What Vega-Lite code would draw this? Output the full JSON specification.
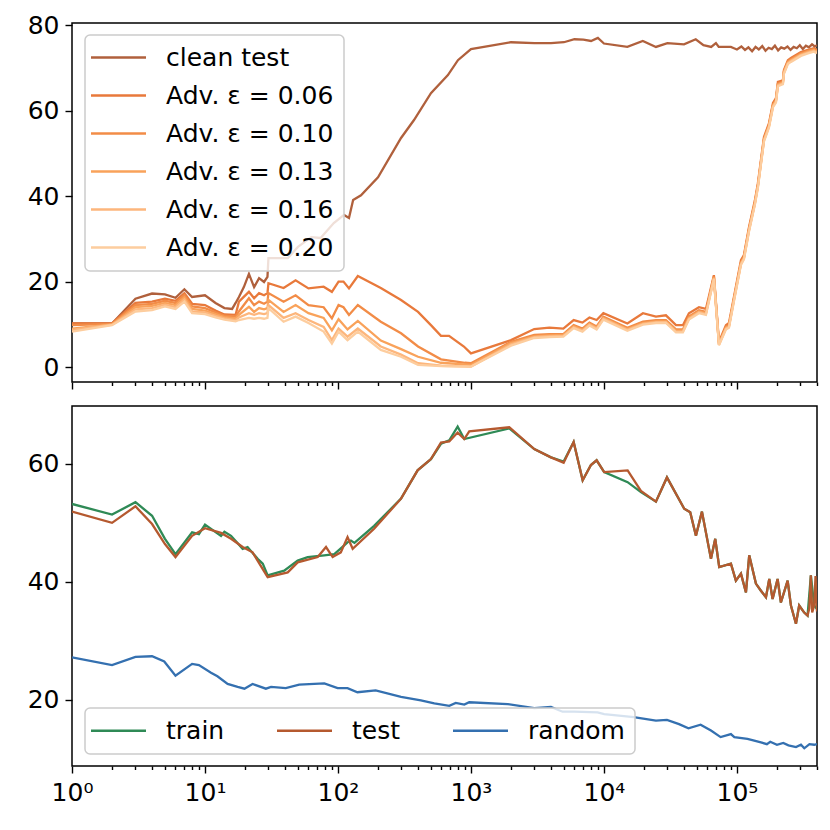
{
  "$schema": "https://vega.github.io/schema/vega-lite/v6.json",
  "padding": {"left": 5, "top": 12, "right": 5, "bottom": 5},
  "background": "white",
  "config": {
    "font": "DejaVu Sans",
    "view": {"stroke": "black", "strokeWidth": 1.5},
    "axis": {"grid": false, "domain": false, "tickColor": "black", "tickWidth": 1.4, "labelColor": "black", "labelFontSize": 25, "labelFont": "DejaVu Sans", "titleFontSize": 0},
    "axisY": {"minExtent": 66, "maxExtent": 66, "tickSize": 7, "labelPadding": 6},
    "legend": {"labelFont": "DejaVu Sans", "labelFontSize": 25, "labelColor": "black", "symbolType": "M-2.5,0H2.5", "symbolSize": 484, "symbolOffset": 11, "symbolStrokeWidth": 2.5, "labelOffset": 35, "padding": 10, "fillColor": "rgba(255,255,255,0.8)", "strokeColor": "#cccccc", "cornerRadius": 5, "strokeWidth": 1.5, "labelLimit": 400, "title": null}
  },
  "spacing": 14,
  "resolve": {"scale": {"color": "independent"}, "legend": {"color": "independent"}},
  "datasets": {
    "top": [
      {"x":1,"y":10.2,"s":"clean test"},{"x":2,"y":10.2,"s":"clean test"},{"x":3,"y":16.0,"s":"clean test"},{"x":4,"y":17.2,"s":"clean test"},{"x":5,"y":17.0,"s":"clean test"},{"x":6,"y":16.2,"s":"clean test"},{"x":7,"y":18.2,"s":"clean test"},{"x":8,"y":16.4,"s":"clean test"},{"x":10,"y":16.8,"s":"clean test"},{"x":12,"y":15.0,"s":"clean test"},{"x":14,"y":13.8,"s":"clean test"},{"x":16,"y":13.6,"s":"clean test"},{"x":17,"y":15.0,"s":"clean test"},{"x":18,"y":16.4,"s":"clean test"},{"x":19.6,"y":18.7,"s":"clean test"},{"x":21.4,"y":21.8,"s":"clean test"},{"x":23.4,"y":18.7,"s":"clean test"},{"x":25.5,"y":20.8,"s":"clean test"},{"x":27.8,"y":19.9,"s":"clean test"},{"x":29.5,"y":21.1,"s":"clean test"},{"x":30,"y":25.5,"s":"clean test"},{"x":42,"y":25.5,"s":"clean test"},{"x":50,"y":28.1,"s":"clean test"},{"x":63,"y":30.4,"s":"clean test"},{"x":74,"y":30.2,"s":"clean test"},{"x":93,"y":33.7,"s":"clean test"},{"x":111,"y":35.6,"s":"clean test"},{"x":121,"y":34.9,"s":"clean test"},{"x":130,"y":39.1,"s":"clean test"},{"x":149,"y":40.2,"s":"clean test"},{"x":200,"y":44.4,"s":"clean test"},{"x":298,"y":53.6,"s":"clean test"},{"x":373,"y":57.8,"s":"clean test"},{"x":500,"y":64.1,"s":"clean test"},{"x":671,"y":68.3,"s":"clean test"},{"x":798,"y":71.8,"s":"clean test"},{"x":1000,"y":74.4,"s":"clean test"},{"x":2000,"y":76.0,"s":"clean test"},{"x":3000,"y":75.8,"s":"clean test"},{"x":4000,"y":75.8,"s":"clean test"},{"x":5000,"y":76.0,"s":"clean test"},{"x":6000,"y":76.7,"s":"clean test"},{"x":7000,"y":76.6,"s":"clean test"},{"x":8000,"y":76.3,"s":"clean test"},{"x":9000,"y":77.0,"s":"clean test"},{"x":10000,"y":75.7,"s":"clean test"},{"x":15000,"y":74.9,"s":"clean test"},{"x":19600,"y":76.3,"s":"clean test"},{"x":24600,"y":74.9,"s":"clean test"},{"x":30000,"y":75.8,"s":"clean test"},{"x":40000,"y":75.5,"s":"clean test"},{"x":49000,"y":76.7,"s":"clean test"},{"x":56000,"y":75.3,"s":"clean test"},{"x":64000,"y":74.9,"s":"clean test"},{"x":69500,"y":75.8,"s":"clean test"},{"x":73000,"y":74.9,"s":"clean test"},{"x":90000,"y":74.9,"s":"clean test"},{"x":95000,"y":74.6,"s":"clean test"},{"x":100000,"y":74.3,"s":"clean test"},{"x":108000,"y":75.0,"s":"clean test"},{"x":115000,"y":74.2,"s":"clean test"},{"x":122000,"y":74.8,"s":"clean test"},{"x":130000,"y":73.9,"s":"clean test"},{"x":138000,"y":74.9,"s":"clean test"},{"x":146000,"y":74.3,"s":"clean test"},{"x":155000,"y":75.1,"s":"clean test"},{"x":164000,"y":74.0,"s":"clean test"},{"x":173000,"y":74.7,"s":"clean test"},{"x":183000,"y":74.4,"s":"clean test"},{"x":193000,"y":75.2,"s":"clean test"},{"x":204000,"y":74.1,"s":"clean test"},{"x":215000,"y":74.8,"s":"clean test"},{"x":227000,"y":74.5,"s":"clean test"},{"x":240000,"y":75.0,"s":"clean test"},{"x":253000,"y":74.2,"s":"clean test"},{"x":267000,"y":74.9,"s":"clean test"},{"x":282000,"y":74.6,"s":"clean test"},{"x":297000,"y":75.3,"s":"clean test"},{"x":313000,"y":74.4,"s":"clean test"},{"x":330000,"y":75.2,"s":"clean test"},{"x":348000,"y":74.8,"s":"clean test"},{"x":367000,"y":75.5,"s":"clean test"},{"x":385000,"y":75.0,"s":"clean test"},{"x":400000,"y":75.3,"s":"clean test"},

      {"x":1,"y":10.2,"s":"Adv. ε = 0.06"},{"x":2,"y":10.2,"s":"Adv. ε = 0.06"},{"x":3,"y":15.0,"s":"Adv. ε = 0.06"},{"x":4,"y":15.3,"s":"Adv. ε = 0.06"},{"x":5,"y":16.0,"s":"Adv. ε = 0.06"},{"x":6,"y":15.5,"s":"Adv. ε = 0.06"},{"x":7,"y":17.3,"s":"Adv. ε = 0.06"},{"x":8,"y":14.8,"s":"Adv. ε = 0.06"},{"x":10,"y":14.5,"s":"Adv. ε = 0.06"},{"x":12,"y":13.2,"s":"Adv. ε = 0.06"},{"x":14,"y":12.3,"s":"Adv. ε = 0.06"},{"x":17,"y":12.2,"s":"Adv. ε = 0.06"},{"x":18,"y":15.3,"s":"Adv. ε = 0.06"},{"x":21.4,"y":17.6,"s":"Adv. ε = 0.06"},{"x":23.4,"y":16.1,"s":"Adv. ε = 0.06"},{"x":25.5,"y":17.3,"s":"Adv. ε = 0.06"},{"x":27.8,"y":16.8,"s":"Adv. ε = 0.06"},{"x":29.5,"y":17.3,"s":"Adv. ε = 0.06"},{"x":30,"y":19.6,"s":"Adv. ε = 0.06"},{"x":39,"y":18.5,"s":"Adv. ε = 0.06"},{"x":48,"y":20.3,"s":"Adv. ε = 0.06"},{"x":60,"y":18.4,"s":"Adv. ε = 0.06"},{"x":78,"y":18.8,"s":"Adv. ε = 0.06"},{"x":90,"y":17.6,"s":"Adv. ε = 0.06"},{"x":101,"y":20.0,"s":"Adv. ε = 0.06"},{"x":110,"y":20.0,"s":"Adv. ε = 0.06"},{"x":121,"y":18.4,"s":"Adv. ε = 0.06"},{"x":141,"y":21.3,"s":"Adv. ε = 0.06"},{"x":210,"y":18.5,"s":"Adv. ε = 0.06"},{"x":298,"y":15.7,"s":"Adv. ε = 0.06"},{"x":400,"y":12.9,"s":"Adv. ε = 0.06"},{"x":500,"y":9.8,"s":"Adv. ε = 0.06"},{"x":595,"y":7.3,"s":"Adv. ε = 0.06"},{"x":684,"y":7.3,"s":"Adv. ε = 0.06"},{"x":885,"y":4.8,"s":"Adv. ε = 0.06"},{"x":1000,"y":3.2,"s":"Adv. ε = 0.06"},{"x":2000,"y":6.3,"s":"Adv. ε = 0.06"},{"x":2990,"y":8.9,"s":"Adv. ε = 0.06"},{"x":3890,"y":9.2,"s":"Adv. ε = 0.06"},{"x":4950,"y":9.0,"s":"Adv. ε = 0.06"},{"x":5920,"y":11.0,"s":"Adv. ε = 0.06"},{"x":6890,"y":10.4,"s":"Adv. ε = 0.06"},{"x":7780,"y":11.6,"s":"Adv. ε = 0.06"},{"x":8810,"y":11.0,"s":"Adv. ε = 0.06"},{"x":9900,"y":12.6,"s":"Adv. ε = 0.06"},{"x":15000,"y":10.2,"s":"Adv. ε = 0.06"},{"x":19650,"y":12.6,"s":"Adv. ε = 0.06"},{"x":24600,"y":11.8,"s":"Adv. ε = 0.06"},{"x":29250,"y":12.1,"s":"Adv. ε = 0.06"},{"x":34800,"y":9.8,"s":"Adv. ε = 0.06"},{"x":39240,"y":9.8,"s":"Adv. ε = 0.06"},{"x":43550,"y":12.6,"s":"Adv. ε = 0.06"},{"x":51800,"y":14.0,"s":"Adv. ε = 0.06"},{"x":58450,"y":13.6,"s":"Adv. ε = 0.06"},{"x":67100,"y":21.5,"s":"Adv. ε = 0.06"},{"x":73250,"y":5.9,"s":"Adv. ε = 0.06"},{"x":82650,"y":9.8,"s":"Adv. ε = 0.06"},{"x":87100,"y":10.3,"s":"Adv. ε = 0.06"},{"x":94950,"y":16.4,"s":"Adv. ε = 0.06"},{"x":107200,"y":25.0,"s":"Adv. ε = 0.06"},{"x":112900,"y":26.2,"s":"Adv. ε = 0.06"},{"x":123200,"y":32.7,"s":"Adv. ε = 0.06"},{"x":136500,"y":39.0,"s":"Adv. ε = 0.06"},{"x":143800,"y":43.0,"s":"Adv. ε = 0.06"},{"x":151500,"y":48.4,"s":"Adv. ε = 0.06"},{"x":159700,"y":53.8,"s":"Adv. ε = 0.06"},{"x":174000,"y":57.0,"s":"Adv. ε = 0.06"},{"x":186700,"y":61.8,"s":"Adv. ε = 0.06"},{"x":196500,"y":62.9,"s":"Adv. ε = 0.06"},{"x":203300,"y":66.7,"s":"Adv. ε = 0.06"},{"x":221700,"y":67.1,"s":"Adv. ε = 0.06"},{"x":225600,"y":69.5,"s":"Adv. ε = 0.06"},{"x":241700,"y":71.8,"s":"Adv. ε = 0.06"},{"x":254700,"y":72.3,"s":"Adv. ε = 0.06"},{"x":302700,"y":73.7,"s":"Adv. ε = 0.06"},{"x":341800,"y":74.2,"s":"Adv. ε = 0.06"},{"x":379300,"y":74.6,"s":"Adv. ε = 0.06"},{"x":400000,"y":74.2,"s":"Adv. ε = 0.06"},

      {"x":1,"y":9.8,"s":"Adv. ε = 0.10"},{"x":2,"y":10.1,"s":"Adv. ε = 0.10"},{"x":3,"y":14.5,"s":"Adv. ε = 0.10"},{"x":4,"y":14.8,"s":"Adv. ε = 0.10"},{"x":5,"y":15.5,"s":"Adv. ε = 0.10"},{"x":6,"y":15.0,"s":"Adv. ε = 0.10"},{"x":7,"y":16.8,"s":"Adv. ε = 0.10"},{"x":8,"y":14.2,"s":"Adv. ε = 0.10"},{"x":10,"y":13.8,"s":"Adv. ε = 0.10"},{"x":12,"y":12.8,"s":"Adv. ε = 0.10"},{"x":14,"y":12.0,"s":"Adv. ε = 0.10"},{"x":17,"y":11.8,"s":"Adv. ε = 0.10"},{"x":18,"y":13.0,"s":"Adv. ε = 0.10"},{"x":21.4,"y":16.1,"s":"Adv. ε = 0.10"},{"x":23.4,"y":14.5,"s":"Adv. ε = 0.10"},{"x":25.5,"y":15.3,"s":"Adv. ε = 0.10"},{"x":27.8,"y":14.8,"s":"Adv. ε = 0.10"},{"x":29.5,"y":15.3,"s":"Adv. ε = 0.10"},{"x":30,"y":17.3,"s":"Adv. ε = 0.10"},{"x":39,"y":15.3,"s":"Adv. ε = 0.10"},{"x":48,"y":16.8,"s":"Adv. ε = 0.10"},{"x":60,"y":14.5,"s":"Adv. ε = 0.10"},{"x":78,"y":14.0,"s":"Adv. ε = 0.10"},{"x":90,"y":11.4,"s":"Adv. ε = 0.10"},{"x":101,"y":14.5,"s":"Adv. ε = 0.10"},{"x":110,"y":14.0,"s":"Adv. ε = 0.10"},{"x":121,"y":12.2,"s":"Adv. ε = 0.10"},{"x":141,"y":14.5,"s":"Adv. ε = 0.10"},{"x":210,"y":10.6,"s":"Adv. ε = 0.10"},{"x":298,"y":7.9,"s":"Adv. ε = 0.10"},{"x":400,"y":4.8,"s":"Adv. ε = 0.10"},{"x":595,"y":1.8,"s":"Adv. ε = 0.10"},{"x":900,"y":1.0,"s":"Adv. ε = 0.10"},{"x":1000,"y":0.9,"s":"Adv. ε = 0.10"},{"x":2000,"y":5.9,"s":"Adv. ε = 0.10"},{"x":2990,"y":7.5,"s":"Adv. ε = 0.10"},{"x":3890,"y":7.7,"s":"Adv. ε = 0.10"},{"x":4950,"y":7.7,"s":"Adv. ε = 0.10"},{"x":5920,"y":9.8,"s":"Adv. ε = 0.10"},{"x":6890,"y":9.0,"s":"Adv. ε = 0.10"},{"x":7780,"y":10.4,"s":"Adv. ε = 0.10"},{"x":8810,"y":9.5,"s":"Adv. ε = 0.10"},{"x":9900,"y":11.8,"s":"Adv. ε = 0.10"},{"x":15000,"y":9.2,"s":"Adv. ε = 0.10"},{"x":19650,"y":10.6,"s":"Adv. ε = 0.10"},{"x":24600,"y":11.0,"s":"Adv. ε = 0.10"},{"x":29250,"y":11.0,"s":"Adv. ε = 0.10"},{"x":34800,"y":8.8,"s":"Adv. ε = 0.10"},{"x":39240,"y":8.8,"s":"Adv. ε = 0.10"},{"x":43550,"y":11.8,"s":"Adv. ε = 0.10"},{"x":51800,"y":13.3,"s":"Adv. ε = 0.10"},{"x":58450,"y":12.9,"s":"Adv. ε = 0.10"},{"x":67100,"y":21.2,"s":"Adv. ε = 0.10"},{"x":73250,"y":5.5,"s":"Adv. ε = 0.10"},{"x":82650,"y":9.4,"s":"Adv. ε = 0.10"},{"x":87100,"y":9.8,"s":"Adv. ε = 0.10"},{"x":94950,"y":16.0,"s":"Adv. ε = 0.10"},{"x":107200,"y":24.5,"s":"Adv. ε = 0.10"},{"x":112900,"y":25.8,"s":"Adv. ε = 0.10"},{"x":123200,"y":32.3,"s":"Adv. ε = 0.10"},{"x":136500,"y":38.6,"s":"Adv. ε = 0.10"},{"x":143800,"y":42.6,"s":"Adv. ε = 0.10"},{"x":151500,"y":48.0,"s":"Adv. ε = 0.10"},{"x":159700,"y":53.4,"s":"Adv. ε = 0.10"},{"x":174000,"y":56.6,"s":"Adv. ε = 0.10"},{"x":186700,"y":61.4,"s":"Adv. ε = 0.10"},{"x":196500,"y":62.5,"s":"Adv. ε = 0.10"},{"x":203300,"y":66.3,"s":"Adv. ε = 0.10"},{"x":221700,"y":66.8,"s":"Adv. ε = 0.10"},{"x":225600,"y":69.2,"s":"Adv. ε = 0.10"},{"x":241700,"y":71.5,"s":"Adv. ε = 0.10"},{"x":254700,"y":72.0,"s":"Adv. ε = 0.10"},{"x":302700,"y":73.4,"s":"Adv. ε = 0.10"},{"x":341800,"y":74.0,"s":"Adv. ε = 0.10"},{"x":379300,"y":74.4,"s":"Adv. ε = 0.10"},{"x":400000,"y":74.0,"s":"Adv. ε = 0.10"},

      {"x":1,"y":9.0,"s":"Adv. ε = 0.13"},{"x":2,"y":10.0,"s":"Adv. ε = 0.13"},{"x":3,"y":14.0,"s":"Adv. ε = 0.13"},{"x":4,"y":14.3,"s":"Adv. ε = 0.13"},{"x":5,"y":15.0,"s":"Adv. ε = 0.13"},{"x":6,"y":14.5,"s":"Adv. ε = 0.13"},{"x":7,"y":16.3,"s":"Adv. ε = 0.13"},{"x":8,"y":13.6,"s":"Adv. ε = 0.13"},{"x":10,"y":13.2,"s":"Adv. ε = 0.13"},{"x":12,"y":12.4,"s":"Adv. ε = 0.13"},{"x":14,"y":11.7,"s":"Adv. ε = 0.13"},{"x":17,"y":11.4,"s":"Adv. ε = 0.13"},{"x":18,"y":12.2,"s":"Adv. ε = 0.13"},{"x":21.4,"y":14.1,"s":"Adv. ε = 0.13"},{"x":23.4,"y":12.9,"s":"Adv. ε = 0.13"},{"x":25.5,"y":13.8,"s":"Adv. ε = 0.13"},{"x":27.8,"y":13.5,"s":"Adv. ε = 0.13"},{"x":29.5,"y":13.8,"s":"Adv. ε = 0.13"},{"x":30,"y":15.7,"s":"Adv. ε = 0.13"},{"x":39,"y":12.9,"s":"Adv. ε = 0.13"},{"x":48,"y":14.5,"s":"Adv. ε = 0.13"},{"x":60,"y":12.6,"s":"Adv. ε = 0.13"},{"x":78,"y":11.5,"s":"Adv. ε = 0.13"},{"x":90,"y":8.6,"s":"Adv. ε = 0.13"},{"x":101,"y":11.2,"s":"Adv. ε = 0.13"},{"x":118,"y":8.8,"s":"Adv. ε = 0.13"},{"x":141,"y":10.8,"s":"Adv. ε = 0.13"},{"x":210,"y":6.2,"s":"Adv. ε = 0.13"},{"x":298,"y":4.2,"s":"Adv. ε = 0.13"},{"x":400,"y":2.4,"s":"Adv. ε = 0.13"},{"x":595,"y":1.0,"s":"Adv. ε = 0.13"},{"x":1000,"y":0.5,"s":"Adv. ε = 0.13"},{"x":2000,"y":5.6,"s":"Adv. ε = 0.13"},{"x":2990,"y":7.2,"s":"Adv. ε = 0.13"},{"x":3890,"y":7.4,"s":"Adv. ε = 0.13"},{"x":4950,"y":7.5,"s":"Adv. ε = 0.13"},{"x":5920,"y":9.5,"s":"Adv. ε = 0.13"},{"x":6890,"y":8.7,"s":"Adv. ε = 0.13"},{"x":7780,"y":10.1,"s":"Adv. ε = 0.13"},{"x":8810,"y":9.2,"s":"Adv. ε = 0.13"},{"x":9900,"y":11.5,"s":"Adv. ε = 0.13"},{"x":15000,"y":8.9,"s":"Adv. ε = 0.13"},{"x":19650,"y":10.3,"s":"Adv. ε = 0.13"},{"x":24600,"y":10.7,"s":"Adv. ε = 0.13"},{"x":29250,"y":10.7,"s":"Adv. ε = 0.13"},{"x":34800,"y":8.5,"s":"Adv. ε = 0.13"},{"x":39240,"y":8.5,"s":"Adv. ε = 0.13"},{"x":43550,"y":11.5,"s":"Adv. ε = 0.13"},{"x":51800,"y":13.0,"s":"Adv. ε = 0.13"},{"x":58450,"y":12.6,"s":"Adv. ε = 0.13"},{"x":67100,"y":21.0,"s":"Adv. ε = 0.13"},{"x":73250,"y":5.3,"s":"Adv. ε = 0.13"},{"x":82650,"y":9.2,"s":"Adv. ε = 0.13"},{"x":87100,"y":9.6,"s":"Adv. ε = 0.13"},{"x":94950,"y":15.8,"s":"Adv. ε = 0.13"},{"x":107200,"y":24.3,"s":"Adv. ε = 0.13"},{"x":112900,"y":25.6,"s":"Adv. ε = 0.13"},{"x":123200,"y":32.1,"s":"Adv. ε = 0.13"},{"x":136500,"y":38.4,"s":"Adv. ε = 0.13"},{"x":143800,"y":42.4,"s":"Adv. ε = 0.13"},{"x":151500,"y":47.8,"s":"Adv. ε = 0.13"},{"x":159700,"y":53.2,"s":"Adv. ε = 0.13"},{"x":174000,"y":56.4,"s":"Adv. ε = 0.13"},{"x":186700,"y":61.2,"s":"Adv. ε = 0.13"},{"x":196500,"y":62.3,"s":"Adv. ε = 0.13"},{"x":203300,"y":66.1,"s":"Adv. ε = 0.13"},{"x":221700,"y":66.6,"s":"Adv. ε = 0.13"},{"x":225600,"y":69.0,"s":"Adv. ε = 0.13"},{"x":241700,"y":71.3,"s":"Adv. ε = 0.13"},{"x":254700,"y":71.8,"s":"Adv. ε = 0.13"},{"x":302700,"y":73.2,"s":"Adv. ε = 0.13"},{"x":341800,"y":73.8,"s":"Adv. ε = 0.13"},{"x":379300,"y":74.2,"s":"Adv. ε = 0.13"},{"x":400000,"y":73.8,"s":"Adv. ε = 0.13"},

      {"x":1,"y":8.7,"s":"Adv. ε = 0.16"},{"x":2,"y":9.9,"s":"Adv. ε = 0.16"},{"x":3,"y":13.5,"s":"Adv. ε = 0.16"},{"x":4,"y":13.8,"s":"Adv. ε = 0.16"},{"x":5,"y":14.6,"s":"Adv. ε = 0.16"},{"x":6,"y":14.0,"s":"Adv. ε = 0.16"},{"x":7,"y":15.8,"s":"Adv. ε = 0.16"},{"x":8,"y":13.0,"s":"Adv. ε = 0.16"},{"x":10,"y":12.8,"s":"Adv. ε = 0.16"},{"x":12,"y":12.0,"s":"Adv. ε = 0.16"},{"x":14,"y":11.4,"s":"Adv. ε = 0.16"},{"x":17,"y":11.0,"s":"Adv. ε = 0.16"},{"x":18,"y":11.6,"s":"Adv. ε = 0.16"},{"x":21.4,"y":12.6,"s":"Adv. ε = 0.16"},{"x":23.4,"y":12.2,"s":"Adv. ε = 0.16"},{"x":25.5,"y":12.6,"s":"Adv. ε = 0.16"},{"x":27.8,"y":12.4,"s":"Adv. ε = 0.16"},{"x":29.5,"y":12.6,"s":"Adv. ε = 0.16"},{"x":30,"y":14.5,"s":"Adv. ε = 0.16"},{"x":39,"y":11.5,"s":"Adv. ε = 0.16"},{"x":48,"y":12.6,"s":"Adv. ε = 0.16"},{"x":60,"y":11.0,"s":"Adv. ε = 0.16"},{"x":78,"y":9.4,"s":"Adv. ε = 0.16"},{"x":90,"y":6.3,"s":"Adv. ε = 0.16"},{"x":101,"y":9.0,"s":"Adv. ε = 0.16"},{"x":118,"y":7.1,"s":"Adv. ε = 0.16"},{"x":141,"y":9.0,"s":"Adv. ε = 0.16"},{"x":210,"y":4.8,"s":"Adv. ε = 0.16"},{"x":298,"y":2.9,"s":"Adv. ε = 0.16"},{"x":400,"y":0.9,"s":"Adv. ε = 0.16"},{"x":600,"y":0.3,"s":"Adv. ε = 0.16"},{"x":1000,"y":0.1,"s":"Adv. ε = 0.16"},{"x":2000,"y":5.3,"s":"Adv. ε = 0.16"},{"x":2990,"y":7.0,"s":"Adv. ε = 0.16"},{"x":3890,"y":7.2,"s":"Adv. ε = 0.16"},{"x":4950,"y":7.3,"s":"Adv. ε = 0.16"},{"x":5920,"y":9.3,"s":"Adv. ε = 0.16"},{"x":6890,"y":8.5,"s":"Adv. ε = 0.16"},{"x":7780,"y":9.9,"s":"Adv. ε = 0.16"},{"x":8810,"y":9.0,"s":"Adv. ε = 0.16"},{"x":9900,"y":11.3,"s":"Adv. ε = 0.16"},{"x":15000,"y":8.7,"s":"Adv. ε = 0.16"},{"x":19650,"y":10.1,"s":"Adv. ε = 0.16"},{"x":24600,"y":10.5,"s":"Adv. ε = 0.16"},{"x":29250,"y":10.5,"s":"Adv. ε = 0.16"},{"x":34800,"y":8.3,"s":"Adv. ε = 0.16"},{"x":39240,"y":8.3,"s":"Adv. ε = 0.16"},{"x":43550,"y":11.3,"s":"Adv. ε = 0.16"},{"x":51800,"y":12.8,"s":"Adv. ε = 0.16"},{"x":58450,"y":12.4,"s":"Adv. ε = 0.16"},{"x":67100,"y":20.8,"s":"Adv. ε = 0.16"},{"x":73250,"y":5.2,"s":"Adv. ε = 0.16"},{"x":82650,"y":9.0,"s":"Adv. ε = 0.16"},{"x":87100,"y":9.4,"s":"Adv. ε = 0.16"},{"x":94950,"y":15.6,"s":"Adv. ε = 0.16"},{"x":107200,"y":24.1,"s":"Adv. ε = 0.16"},{"x":112900,"y":25.4,"s":"Adv. ε = 0.16"},{"x":123200,"y":31.9,"s":"Adv. ε = 0.16"},{"x":136500,"y":38.2,"s":"Adv. ε = 0.16"},{"x":143800,"y":42.2,"s":"Adv. ε = 0.16"},{"x":151500,"y":47.6,"s":"Adv. ε = 0.16"},{"x":159700,"y":53.0,"s":"Adv. ε = 0.16"},{"x":174000,"y":56.2,"s":"Adv. ε = 0.16"},{"x":186700,"y":61.0,"s":"Adv. ε = 0.16"},{"x":196500,"y":62.1,"s":"Adv. ε = 0.16"},{"x":203300,"y":65.9,"s":"Adv. ε = 0.16"},{"x":221700,"y":66.4,"s":"Adv. ε = 0.16"},{"x":225600,"y":68.8,"s":"Adv. ε = 0.16"},{"x":241700,"y":71.1,"s":"Adv. ε = 0.16"},{"x":254700,"y":71.6,"s":"Adv. ε = 0.16"},{"x":302700,"y":73.0,"s":"Adv. ε = 0.16"},{"x":341800,"y":73.6,"s":"Adv. ε = 0.16"},{"x":379300,"y":74.0,"s":"Adv. ε = 0.16"},{"x":400000,"y":73.6,"s":"Adv. ε = 0.16"},

      {"x":1,"y":8.3,"s":"Adv. ε = 0.20"},{"x":2,"y":9.8,"s":"Adv. ε = 0.20"},{"x":3,"y":13.0,"s":"Adv. ε = 0.20"},{"x":4,"y":13.3,"s":"Adv. ε = 0.20"},{"x":5,"y":14.2,"s":"Adv. ε = 0.20"},{"x":6,"y":13.6,"s":"Adv. ε = 0.20"},{"x":7,"y":15.3,"s":"Adv. ε = 0.20"},{"x":8,"y":12.6,"s":"Adv. ε = 0.20"},{"x":10,"y":12.4,"s":"Adv. ε = 0.20"},{"x":12,"y":11.6,"s":"Adv. ε = 0.20"},{"x":14,"y":11.1,"s":"Adv. ε = 0.20"},{"x":17,"y":10.7,"s":"Adv. ε = 0.20"},{"x":18,"y":11.0,"s":"Adv. ε = 0.20"},{"x":21.4,"y":11.5,"s":"Adv. ε = 0.20"},{"x":23.4,"y":11.3,"s":"Adv. ε = 0.20"},{"x":25.5,"y":11.5,"s":"Adv. ε = 0.20"},{"x":27.8,"y":11.3,"s":"Adv. ε = 0.20"},{"x":29.5,"y":11.5,"s":"Adv. ε = 0.20"},{"x":30,"y":13.8,"s":"Adv. ε = 0.20"},{"x":39,"y":10.6,"s":"Adv. ε = 0.20"},{"x":48,"y":11.8,"s":"Adv. ε = 0.20"},{"x":60,"y":10.3,"s":"Adv. ε = 0.20"},{"x":78,"y":8.3,"s":"Adv. ε = 0.20"},{"x":90,"y":5.5,"s":"Adv. ε = 0.20"},{"x":101,"y":8.3,"s":"Adv. ε = 0.20"},{"x":118,"y":6.3,"s":"Adv. ε = 0.20"},{"x":141,"y":8.3,"s":"Adv. ε = 0.20"},{"x":210,"y":4.0,"s":"Adv. ε = 0.20"},{"x":298,"y":2.4,"s":"Adv. ε = 0.20"},{"x":400,"y":0.5,"s":"Adv. ε = 0.20"},{"x":600,"y":0.2,"s":"Adv. ε = 0.20"},{"x":1000,"y":0.1,"s":"Adv. ε = 0.20"},{"x":2000,"y":5.0,"s":"Adv. ε = 0.20"},{"x":2990,"y":6.8,"s":"Adv. ε = 0.20"},{"x":3890,"y":7.0,"s":"Adv. ε = 0.20"},{"x":4950,"y":7.1,"s":"Adv. ε = 0.20"},{"x":5920,"y":9.1,"s":"Adv. ε = 0.20"},{"x":6890,"y":8.3,"s":"Adv. ε = 0.20"},{"x":7780,"y":9.7,"s":"Adv. ε = 0.20"},{"x":8810,"y":8.8,"s":"Adv. ε = 0.20"},{"x":9900,"y":11.1,"s":"Adv. ε = 0.20"},{"x":15000,"y":8.5,"s":"Adv. ε = 0.20"},{"x":19650,"y":9.9,"s":"Adv. ε = 0.20"},{"x":24600,"y":10.3,"s":"Adv. ε = 0.20"},{"x":29250,"y":10.3,"s":"Adv. ε = 0.20"},{"x":34800,"y":8.1,"s":"Adv. ε = 0.20"},{"x":39240,"y":8.1,"s":"Adv. ε = 0.20"},{"x":43550,"y":11.1,"s":"Adv. ε = 0.20"},{"x":51800,"y":12.6,"s":"Adv. ε = 0.20"},{"x":58450,"y":12.2,"s":"Adv. ε = 0.20"},{"x":67100,"y":20.6,"s":"Adv. ε = 0.20"},{"x":73250,"y":5.1,"s":"Adv. ε = 0.20"},{"x":82650,"y":8.8,"s":"Adv. ε = 0.20"},{"x":87100,"y":9.2,"s":"Adv. ε = 0.20"},{"x":94950,"y":15.4,"s":"Adv. ε = 0.20"},{"x":107200,"y":23.9,"s":"Adv. ε = 0.20"},{"x":112900,"y":25.2,"s":"Adv. ε = 0.20"},{"x":123200,"y":31.7,"s":"Adv. ε = 0.20"},{"x":136500,"y":38.0,"s":"Adv. ε = 0.20"},{"x":143800,"y":42.0,"s":"Adv. ε = 0.20"},{"x":151500,"y":47.4,"s":"Adv. ε = 0.20"},{"x":159700,"y":52.8,"s":"Adv. ε = 0.20"},{"x":174000,"y":56.0,"s":"Adv. ε = 0.20"},{"x":186700,"y":60.8,"s":"Adv. ε = 0.20"},{"x":196500,"y":61.9,"s":"Adv. ε = 0.20"},{"x":203300,"y":65.7,"s":"Adv. ε = 0.20"},{"x":221700,"y":66.2,"s":"Adv. ε = 0.20"},{"x":225600,"y":68.6,"s":"Adv. ε = 0.20"},{"x":241700,"y":70.9,"s":"Adv. ε = 0.20"},{"x":254700,"y":71.4,"s":"Adv. ε = 0.20"},{"x":302700,"y":72.8,"s":"Adv. ε = 0.20"},{"x":341800,"y":73.4,"s":"Adv. ε = 0.20"},{"x":379300,"y":73.8,"s":"Adv. ε = 0.20"},{"x":400000,"y":73.4,"s":"Adv. ε = 0.20"}
    ],
    "bottom": [
      {"x":1,"y":53.2,"s":"train"},{"x":2,"y":51.4,"s":"train"},{"x":3,"y":53.5,"s":"train"},{"x":4,"y":51.2,"s":"train"},{"x":5,"y":47.3,"s":"train"},{"x":6,"y":44.7,"s":"train"},{"x":8,"y":48.4,"s":"train"},{"x":9,"y":48.1,"s":"train"},{"x":10,"y":49.7,"s":"train"},{"x":13.2,"y":47.8,"s":"train"},{"x":14,"y":48.5,"s":"train"},{"x":15.7,"y":47.8,"s":"train"},{"x":19.2,"y":45.6,"s":"train"},{"x":20.9,"y":45.9,"s":"train"},{"x":24.9,"y":43.9,"s":"train"},{"x":27.2,"y":43.1,"s":"train"},{"x":29.6,"y":41.1,"s":"train"},{"x":39.4,"y":41.9,"s":"train"},{"x":49.8,"y":43.6,"s":"train"},{"x":59.2,"y":44.2,"s":"train"},{"x":78.9,"y":44.5,"s":"train"},{"x":93.8,"y":44.7,"s":"train"},{"x":118,"y":46.7,"s":"train"},{"x":125,"y":47.0,"s":"train"},{"x":133,"y":46.6,"s":"train"},{"x":187,"y":49.5,"s":"train"},{"x":298,"y":54.1,"s":"train"},{"x":397,"y":58.9,"s":"train"},{"x":500,"y":60.8,"s":"train"},{"x":595,"y":63.4,"s":"train"},{"x":687,"y":64.0,"s":"train"},{"x":794,"y":66.3,"s":"train"},{"x":891,"y":64.2,"s":"train"},{"x":1941,"y":66.0,"s":"train"},{"x":2993,"y":62.5,"s":"train"},{"x":3996,"y":61.1,"s":"train"},{"x":4977,"y":60.4,"s":"train"},{"x":5918,"y":63.7,"s":"train"},{"x":6918,"y":57.2,"s":"train"},{"x":7983,"y":59.8,"s":"train"},{"x":8810,"y":60.6,"s":"train"},{"x":10040,"y":58.6,"s":"train"},{"x":15070,"y":56.9,"s":"train"},{"x":18970,"y":55.2,"s":"train"},{"x":24600,"y":53.6,"s":"train"},{"x":29770,"y":57.7,"s":"train"},{"x":40150,"y":52.4,"s":"train"},{"x":44530,"y":51.8,"s":"train"},{"x":49180,"y":47.8,"s":"train"},{"x":54570,"y":51.9,"s":"train"},{"x":63780,"y":43.9,"s":"train"},{"x":68700,"y":47.3,"s":"train"},{"x":73600,"y":42.5,"s":"train"},{"x":90100,"y":43.1,"s":"train"},{"x":98200,"y":40.2,"s":"train"},{"x":107200,"y":41.4,"s":"train"},{"x":116900,"y":38.2,"s":"train"},{"x":123700,"y":44.5,"s":"train"},{"x":138900,"y":39.7,"s":"train"},{"x":151500,"y":38.5,"s":"train"},{"x":165300,"y":37.4,"s":"train"},{"x":175000,"y":40.5,"s":"train"},{"x":185400,"y":37.1,"s":"train"},{"x":202200,"y":40.5,"s":"train"},{"x":214100,"y":36.5,"s":"train"},{"x":240600,"y":40.2,"s":"train"},{"x":254700,"y":36.0,"s":"train"},{"x":277800,"y":32.9,"s":"train"},{"x":293800,"y":36.0,"s":"train"},{"x":320600,"y":34.8,"s":"train"},{"x":339700,"y":34.3,"s":"train"},{"x":359700,"y":41.1,"s":"train"},{"x":381000,"y":36.0,"s":"train"},{"x":400000,"y":35.4,"s":"train"},

      {"x":1,"y":51.9,"s":"test"},{"x":2,"y":50.0,"s":"test"},{"x":3,"y":52.8,"s":"test"},{"x":4,"y":49.8,"s":"test"},{"x":5,"y":46.4,"s":"test"},{"x":6,"y":44.2,"s":"test"},{"x":8,"y":47.8,"s":"test"},{"x":10,"y":49.1,"s":"test"},{"x":13.2,"y":48.3,"s":"test"},{"x":15.7,"y":47.3,"s":"test"},{"x":19.2,"y":45.9,"s":"test"},{"x":22.8,"y":45.0,"s":"test"},{"x":29.6,"y":40.8,"s":"test"},{"x":41.9,"y":41.6,"s":"test"},{"x":49.8,"y":43.3,"s":"test"},{"x":70.4,"y":44.2,"s":"test"},{"x":81.3,"y":45.9,"s":"test"},{"x":91.2,"y":44.2,"s":"test"},{"x":105,"y":45.0,"s":"test"},{"x":118,"y":47.6,"s":"test"},{"x":129,"y":45.6,"s":"test"},{"x":187,"y":49.0,"s":"test"},{"x":298,"y":54.1,"s":"test"},{"x":397,"y":58.9,"s":"test"},{"x":500,"y":60.8,"s":"test"},{"x":595,"y":63.6,"s":"test"},{"x":687,"y":63.8,"s":"test"},{"x":794,"y":65.3,"s":"test"},{"x":891,"y":64.2,"s":"test"},{"x":971,"y":65.5,"s":"test"},{"x":1941,"y":66.2,"s":"test"},{"x":2993,"y":62.5,"s":"test"},{"x":3996,"y":61.1,"s":"test"},{"x":4977,"y":60.2,"s":"test"},{"x":5918,"y":63.7,"s":"test"},{"x":6918,"y":57.2,"s":"test"},{"x":7983,"y":59.8,"s":"test"},{"x":8810,"y":60.6,"s":"test"},{"x":10040,"y":58.6,"s":"test"},{"x":15070,"y":58.9,"s":"test"},{"x":18970,"y":55.4,"s":"test"},{"x":24600,"y":53.6,"s":"test"},{"x":29770,"y":57.7,"s":"test"},{"x":40150,"y":52.4,"s":"test"},{"x":44530,"y":51.8,"s":"test"},{"x":49180,"y":47.8,"s":"test"},{"x":54570,"y":51.9,"s":"test"},{"x":63780,"y":43.9,"s":"test"},{"x":68700,"y":47.3,"s":"test"},{"x":73600,"y":42.5,"s":"test"},{"x":90100,"y":43.1,"s":"test"},{"x":98200,"y":40.2,"s":"test"},{"x":107200,"y":41.4,"s":"test"},{"x":116900,"y":38.2,"s":"test"},{"x":123700,"y":44.5,"s":"test"},{"x":138900,"y":39.7,"s":"test"},{"x":151500,"y":38.5,"s":"test"},{"x":165300,"y":37.4,"s":"test"},{"x":175000,"y":40.5,"s":"test"},{"x":185400,"y":37.1,"s":"test"},{"x":202200,"y":40.5,"s":"test"},{"x":214100,"y":36.5,"s":"test"},{"x":240600,"y":40.2,"s":"test"},{"x":254700,"y":36.0,"s":"test"},{"x":277800,"y":32.9,"s":"test"},{"x":293800,"y":36.0,"s":"test"},{"x":320600,"y":34.8,"s":"test"},{"x":339700,"y":34.3,"s":"test"},{"x":350000,"y":35.5,"s":"test"},{"x":359700,"y":41.1,"s":"test"},{"x":368000,"y":34.8,"s":"test"},{"x":381000,"y":36.0,"s":"test"},{"x":390000,"y":41.0,"s":"test"},{"x":400000,"y":35.0,"s":"test"},

      {"x":1,"y":27.2,"s":"random"},{"x":2,"y":25.9,"s":"random"},{"x":3,"y":27.3,"s":"random"},{"x":4,"y":27.4,"s":"random"},{"x":4.94,"y":26.5,"s":"random"},{"x":6,"y":24.1,"s":"random"},{"x":8,"y":26.1,"s":"random"},{"x":9,"y":25.9,"s":"random"},{"x":11.1,"y":24.6,"s":"random"},{"x":12.4,"y":24.0,"s":"random"},{"x":14.8,"y":22.7,"s":"random"},{"x":17.6,"y":22.2,"s":"random"},{"x":19.8,"y":21.9,"s":"random"},{"x":22.8,"y":22.7,"s":"random"},{"x":28.7,"y":21.9,"s":"random"},{"x":31.4,"y":22.2,"s":"random"},{"x":40.5,"y":22.0,"s":"random"},{"x":51.1,"y":22.6,"s":"random"},{"x":78.9,"y":22.8,"s":"random"},{"x":99.4,"y":22.0,"s":"random"},{"x":118,"y":22.0,"s":"random"},{"x":140,"y":21.3,"s":"random"},{"x":192,"y":21.6,"s":"random"},{"x":298,"y":20.5,"s":"random"},{"x":420,"y":19.9,"s":"random"},{"x":530,"y":19.4,"s":"random"},{"x":687,"y":19.0,"s":"random"},{"x":768,"y":19.5,"s":"random"},{"x":891,"y":19.2,"s":"random"},{"x":971,"y":19.6,"s":"random"},{"x":1888,"y":19.3,"s":"random"},{"x":2993,"y":18.6,"s":"random"},{"x":3996,"y":18.8,"s":"random"},{"x":4878,"y":18.0,"s":"random"},{"x":5960,"y":18.0,"s":"random"},{"x":8960,"y":17.9,"s":"random"},{"x":10040,"y":17.6,"s":"random"},{"x":16740,"y":17.1,"s":"random"},{"x":24600,"y":16.5,"s":"random"},{"x":29770,"y":16.6,"s":"random"},{"x":36700,"y":15.9,"s":"random"},{"x":43200,"y":15.2,"s":"random"},{"x":53300,"y":15.8,"s":"random"},{"x":63800,"y":14.8,"s":"random"},{"x":75400,"y":13.7,"s":"random"},{"x":90100,"y":14.2,"s":"random"},{"x":95600,"y":13.7,"s":"random"},{"x":120000,"y":13.4,"s":"random"},{"x":135000,"y":13.1,"s":"random"},{"x":151500,"y":12.8,"s":"random"},{"x":168000,"y":12.5,"s":"random"},{"x":178000,"y":12.9,"s":"random"},{"x":200000,"y":12.4,"s":"random"},{"x":223000,"y":12.7,"s":"random"},{"x":244000,"y":12.3,"s":"random"},{"x":278000,"y":12.0,"s":"random"},{"x":303000,"y":12.4,"s":"random"},{"x":321000,"y":11.8,"s":"random"},{"x":351000,"y":12.5,"s":"random"},{"x":381000,"y":12.4,"s":"random"},{"x":400000,"y":12.5,"s":"random"}
    ]
  },
  "vconcat": [
    {
      "width": 745,
      "height": 359,
      "data": {"name": "top"},
      "mark": {"type": "line", "strokeWidth": 2.3, "clip": true},
      "encoding": {
        "x": {"field": "x", "type": "quantitative", "title": null,
          "scale": {"type": "log", "domain": [1, 400000], "nice": false},
          "axis": {"labels": false, "labelOverlap": false,
            "values": [1,2,3,4,5,6,7,8,9,10,20,30,40,50,60,70,80,90,100,200,300,400,500,600,700,800,900,1000,2000,3000,4000,5000,6000,7000,8000,9000,10000,20000,30000,40000,50000,60000,70000,80000,90000,100000,200000,300000,400000],
            "tickSize": {"condition": {"test": "abs(log(datum.value)/LN10 - round(log(datum.value)/LN10)) < 0.000001", "value": 7}, "value": 3.5}}},
        "y": {"field": "y", "type": "quantitative", "title": null,
          "scale": {"domain": [-3.5, 80.5], "nice": false, "zero": false},
          "axis": {"values": [0, 20, 40, 60, 80]}},
        "color": {"field": "s", "type": "nominal",
          "scale": {"domain": ["clean test", "Adv. ε = 0.06", "Adv. ε = 0.10", "Adv. ε = 0.13", "Adv. ε = 0.16", "Adv. ε = 0.20"],
                    "range": ["#b0603c", "#e8793b", "#f28c47", "#f9a25a", "#fdb67c", "#fdcd9e"]},
          "legend": {"orient": "none", "legendX": 13, "legendY": 12, "rowPadding": 12}}
      }
    },
    {
      "width": 745,
      "height": 360,
      "data": {"name": "bottom"},
      "mark": {"type": "line", "strokeWidth": 2.3, "clip": true},
      "encoding": {
        "x": {"field": "x", "type": "quantitative", "title": null,
          "scale": {"type": "log", "domain": [1, 400000], "nice": false},
          "axis": {"labelOverlap": false, "labelPadding": 7, "labelFlush": false,
            "values": [1,2,3,4,5,6,7,8,9,10,20,30,40,50,60,70,80,90,100,200,300,400,500,600,700,800,900,1000,2000,3000,4000,5000,6000,7000,8000,9000,10000,20000,30000,40000,50000,60000,70000,80000,90000,100000,200000,300000,400000],
            "labelExpr": "abs(log(datum.value)/LN10 - round(log(datum.value)/LN10)) < 0.000001 ? '10' + ['⁰','¹','²','³','⁴','⁵'][round(log(datum.value)/LN10)] : ''",
            "tickSize": {"condition": {"test": "abs(log(datum.value)/LN10 - round(log(datum.value)/LN10)) < 0.000001", "value": 7}, "value": 3.5}}},
        "y": {"field": "y", "type": "quantitative", "title": null,
          "scale": {"domain": [8.8, 69.8], "nice": false, "zero": false},
          "axis": {"values": [20, 40, 60]}},
        "color": {"field": "s", "type": "nominal",
          "scale": {"domain": ["train", "test", "random"], "range": ["#2f8a56", "#b5592f", "#3470b0"]},
          "legend": {"orient": "none", "legendX": 13, "legendY": 302, "direction": "horizontal", "columns": 3, "columnPadding": 47}}
      }
    }
  ]
}
